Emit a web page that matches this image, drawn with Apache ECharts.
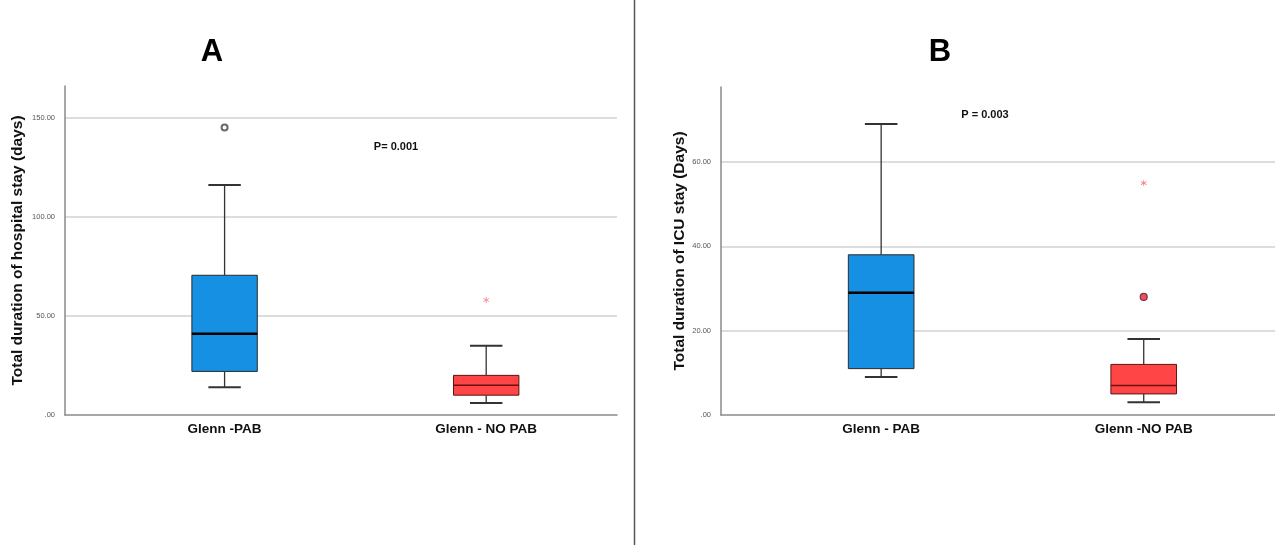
<!DOCTYPE html>
<html>
<head>
<meta charset="utf-8">
<script src="https://cdn.jsdelivr.net/npm/echarts@6/dist/echarts.min.js"></script>
<style>
html,body{margin:0;padding:0;background:#fff;}
#c{width:1275px;height:545px;}
</style>
</head>
<body>
<div id="c"></div>
<script>
// ---- data ----
const categoriesA = ['Glenn -PAB', 'Glenn - NO PAB'];
const categoriesB = ['Glenn - PAB', 'Glenn -NO PAB'];
// [x, min, Q1, median, Q3, max]
const hospitalBoxes = [[1, 14, 22, 41, 70.5, 116], [2, 6, 10, 15, 20, 35]];
const hospitalCircleOutliers = [[1, 145]];
const hospitalStarOutliers = [[2, 58]];
const icuBoxes = [[1, 9, 11, 29, 38, 69], [2, 3, 5, 7, 12, 18]];
const icuCircleOutliers = [[2, 28]];
const icuStarOutliers = [[2, 55]];
const yTicksA = [0, 50, 100, 150];
const yTicksB = [0, 20, 40, 60];

const boxFill = ['#1590e2', '#ff4545'];
const boxBorder = ['#2a2a2a', '#5a1515'];
const medianColor = ['#000000', '#6a1010'];
const FONT = '"Liberation Sans", Arial, sans-serif';
const STAR = 'path://M4.4,10 L5.6,10 L5.6,0 L4.4,0 Z M9.03,8.02 L9.63,6.98 L0.97,1.98 L0.37,3.02 Z M0.37,6.98 L0.97,8.02 L9.63,3.02 L9.03,1.98 Z';

function renderBox(params, api) {
  const x = api.value(0);
  const pMin = api.coord([x, api.value(1)]);
  const pQ1 = api.coord([x, api.value(2)]);
  const pMed = api.coord([x, api.value(3)]);
  const pQ3 = api.coord([x, api.value(4)]);
  const pMax = api.coord([x, api.value(5)]);
  const unit = api.size([1, 0])[0];
  const hw = unit * 0.125;
  const cw = unit * 0.062;
  const cx = pMed[0];
  const i = params.dataIndex;
  const lineStyle = {stroke: '#333', lineWidth: 1.3};
  return {
    type: 'group',
    children: [
      {type: 'line', shape: {x1: cx, y1: pMax[1], x2: cx, y2: pQ3[1]}, style: lineStyle},
      {type: 'line', shape: {x1: cx, y1: pQ1[1], x2: cx, y2: pMin[1]}, style: lineStyle},
      {type: 'line', shape: {x1: cx - cw, y1: pMax[1], x2: cx + cw, y2: pMax[1]}, style: {stroke: '#333', lineWidth: 2}},
      {type: 'line', shape: {x1: cx - cw, y1: pMin[1], x2: cx + cw, y2: pMin[1]}, style: {stroke: '#333', lineWidth: 2}},
      {type: 'rect', shape: {x: cx - hw, y: pQ3[1], width: hw * 2, height: pQ1[1] - pQ3[1]},
        style: {fill: boxFill[i], stroke: boxBorder[i], lineWidth: 1}},
      {type: 'line', shape: {x1: cx - hw, y1: pMed[1], x2: cx + hw, y2: pMed[1]},
        style: {stroke: medianColor[i], lineWidth: i === 0 ? 2.5 : 1.5}}
    ]
  };
}

function yAxis(max, ticks, name, gap) {
  return {
    type: 'value', min: 0, max: max, interval: ticks[1] - ticks[0],
    name: name, nameLocation: 'middle', nameGap: gap, nameRotate: 90,
    nameTextStyle: {fontFamily: FONT, fontWeight: 'bold', fontSize: 15.5, color: '#111'},
    axisLine: {show: true, lineStyle: {color: '#8a8a8a', width: 1.5}},
    axisTick: {show: false},
    axisLabel: {fontFamily: FONT, fontSize: 7.5, color: '#555', margin: 10,
      customValues: ticks,
      formatter: v => v === 0 ? '.00' : v.toFixed(2)},
    splitLine: {show: true, showMaxLine: false, showMinLine: false, lineStyle: {color: '#d2d2d2', width: 1.5}}
  };
}

function xAxis(cats, gridIndex) {
  return {
    type: 'value', gridIndex: gridIndex, min: 0.39, max: 2.5,
    axisLine: {show: true, onZero: false, lineStyle: {color: '#8a8a8a', width: 1.5}},
    axisTick: {show: false},
    splitLine: {show: false},
    axisLabel: {customValues: [1, 2], fontFamily: FONT, fontWeight: 'bold', fontSize: 13.5, color: '#111', margin: 7,
      formatter: v => cats[Math.round(v) - 1]}
  };
}

const chart = echarts.init(document.getElementById('c'), null, {renderer: 'canvas'});
const yA = yAxis(166, yTicksA, 'Total duration of hospital stay (days)', 39);
const yB = yAxis(77.8, yTicksB, 'Total duration of ICU stay (Days)', 33);
yB.gridIndex = 1;

chart.setOption({
  backgroundColor: '#fff',
  animation: false,
  grid: [
    {left: 65, right: 658, top: 86, bottom: 130},
    {left: 721, right: 0, top: 87, bottom: 130}
  ],
  xAxis: [xAxis(categoriesA, 0), xAxis(categoriesB, 1)],
  yAxis: [yA, yB],
  graphic: [
    {type: 'line', shape: {x1: 634.5, y1: 0, x2: 634.5, y2: 545}, style: {stroke: '#555', lineWidth: 1.5}},
    {type: 'text', x: 212, y: 52, style: {text: 'A', font: 'bold 31px ' + FONT, fill: '#000', align: 'center', verticalAlign: 'middle'}},
    {type: 'text', x: 940, y: 52, style: {text: 'B', font: 'bold 31px ' + FONT, fill: '#000', align: 'center', verticalAlign: 'middle'}},
    {type: 'text', x: 396, y: 147, style: {text: 'P= 0.001', font: 'bold 11px ' + FONT, fill: '#111', align: 'center', verticalAlign: 'middle'}},
    {type: 'text', x: 985, y: 115, style: {text: 'P = 0.003', font: 'bold 11px ' + FONT, fill: '#111', align: 'center', verticalAlign: 'middle'}}
  ],
  series: [
    {type: 'custom', xAxisIndex: 0, yAxisIndex: 0, data: hospitalBoxes, renderItem: renderBox,
      encode: {x: 0, y: [1, 2, 3, 4, 5]}},
    {type: 'custom', xAxisIndex: 1, yAxisIndex: 1, data: icuBoxes, renderItem: renderBox,
      encode: {x: 0, y: [1, 2, 3, 4, 5]}},
    {type: 'scatter', xAxisIndex: 0, yAxisIndex: 0, data: hospitalCircleOutliers, symbol: 'emptyCircle', symbolSize: 6,
      itemStyle: {color: '#444', borderColor: '#444', borderWidth: 1.3}},
    {type: 'scatter', xAxisIndex: 0, yAxisIndex: 0, data: hospitalStarOutliers, symbol: STAR, symbolSize: 6,
      itemStyle: {color: '#f05a6a'}},
    {type: 'scatter', xAxisIndex: 1, yAxisIndex: 1, data: icuCircleOutliers, symbol: 'circle', symbolSize: 7,
      itemStyle: {color: '#e02840', borderColor: '#6a1020', borderWidth: 1.2}},
    {type: 'scatter', xAxisIndex: 1, yAxisIndex: 1, data: icuStarOutliers, symbol: STAR, symbolSize: 6,
      itemStyle: {color: '#f05a6a'}}
  ]
});
</script>
</body>
</html>
